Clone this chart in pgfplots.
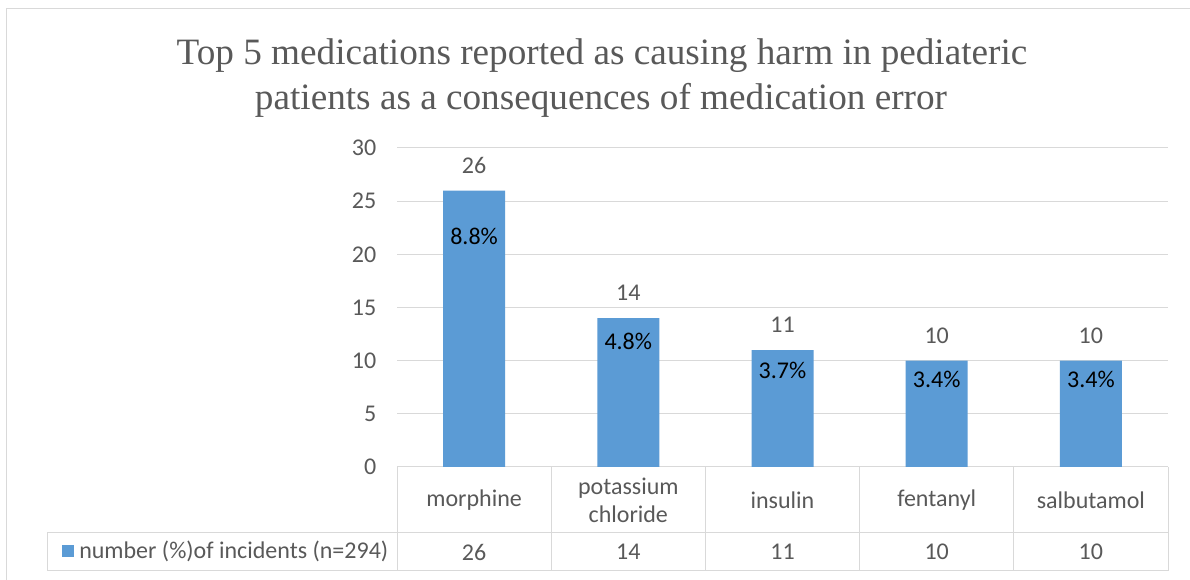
\documentclass[border=0pt]{standalone}
\usepackage{pgfplots}
\usepackage{pgfplotstable}
\pgfplotsset{compat=1.18}
\usepackage{fontspec}
\setmainfont{Carlito}
\newfontfamily\titlefont{Liberation Serif}

\definecolor{barblue}{HTML}{5B9BD5}
\definecolor{txtgray}{HTML}{595959}
\definecolor{gridgray}{HTML}{D9D9D9}

% x: category index, val: number of incidents, pos: height of the percentage label, pct: share of n=294
\pgfplotstableread{
x val pos  pct
0 26  21.7 8.8
1 14  11.8 4.8
2 11  9.1  3.7
3 10  8.2  3.4
4 10  8.2  3.4
}\meds

\newcommand{\lblfont}{\fontsize{18}{21}\selectfont}

\begin{document}
\begin{tikzpicture}
\useasboundingbox (0,0) rectangle (892.5pt,435pt);
\begin{scope}[x=0.75pt,y=-0.75pt,yshift=435pt]
  \fill[white] (0,0) rectangle (1190,580);
  % chart frame
  \draw[gridgray, line width=0.75pt] (6.5,580) -- (6.5,8.5) -- (1190,8.5);
  % title
  \node[anchor=base, inner sep=0, text=txtgray, font=\titlefont\fontsize{27.9}{33}\selectfont]
    at (602,65) {Top 5 medications reported as causing harm in pediateric};
  \node[anchor=base, inner sep=0, text=txtgray, font=\titlefont\fontsize{27.9}{33}\selectfont]
    at (601,110) {patients as a consequences of medication error};
  % data table grid
  \begin{scope}[gridgray, line width=0.75pt]
    \draw (397,467) -- (1168,467);
    \draw (47,533) -- (1168,533);
    \draw (47,571) -- (1168,571);
    \draw (47,533) -- (47,571);
    \foreach \xx in {397,551.2,705.4,859.6,1013.8,1168}
      \draw (\xx,467) -- (\xx,571);
  \end{scope}
  % legend key in the table
  \fill[barblue] (62,545) rectangle (74,557);
  \node[anchor=west, inner sep=0, text=txtgray, font=\lblfont]
    at (79,551) {number (\%)of incidents (n=294)};
\end{scope}

\begin{axis}[
  at={(297.75pt,84.75pt)}, anchor=south west,
  scale only axis, width=578.25pt, height=239.25pt,
  xmin=-0.5, xmax=4.5, ymin=0, ymax=30,
  xtick={0,...,4}, ytick={0,5,...,30},
  xticklabels={morphine,{potassium\\chloride},insulin,fentanyl,salbutamol},
  axis line style={draw=none}, major tick style={draw=none},
  ymajorgrids, grid style={gridgray, line width=0.75pt},
  xticklabel style={anchor=center, yshift=-24.75pt, align=center,
    font=\lblfont, text=txtgray},
  yticklabel style={xshift=-12pt, font=\lblfont, text=txtgray},
  /pgf/number format/assume math mode=true,
  clip=false,
]
  % bars with counts above them
  \addplot[ybar, bar width=46.5pt, fill=barblue, draw=none,
    nodes near coords,
    every node near coord/.append style={anchor=center, yshift=18.75pt,
      font=\lblfont, text=txtgray}]
    table[x=x, y=val] {\meds};
  % percentage labels inside the bars
  \addplot[draw=none, mark=none, forget plot,
    point meta=explicit,
    nodes near coords={\pgfmathprintnumber[fixed,fixed zerofill,precision=1]{\pgfplotspointmeta}\%},
    every node near coord/.append style={anchor=center, font=\lblfont, text=black}]
    table[x=x, y=pos, meta=pct] {\meds};
  % value row of the data table
  \addplot[draw=none, mark=none, forget plot,
    point meta=explicit,
    nodes near coords={\pgfmathprintnumber{\pgfplotspointmeta}},
    every node near coord/.append style={anchor=center, font=\lblfont, text=txtgray}]
    table[x=x, y expr=-8, meta=val] {\meds};
\end{axis}
\end{tikzpicture}
\end{document}
